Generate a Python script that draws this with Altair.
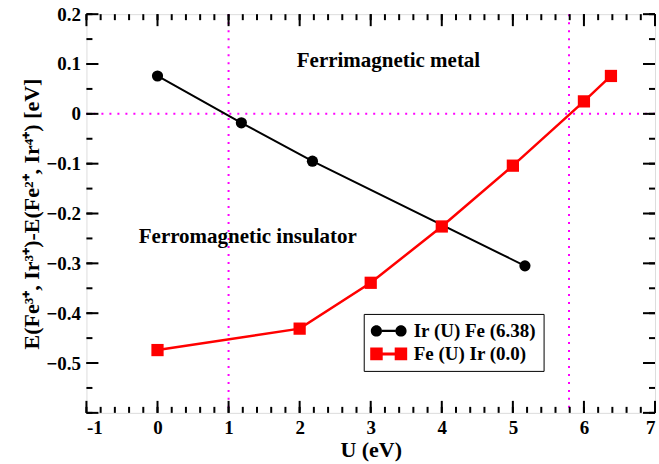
import altair as alt
import pandas as pd

# ---------------- data ----------------
u_ir_fe = [0.0, 1.18, 2.18, 5.17]
e_ir_fe = [0.076, -0.018, -0.095, -0.305]
u_fe_ir = [0.0, 2.0, 3.0, 4.0, 5.0, 6.0, 6.38]
e_fe_ir = [-0.474, -0.431, -0.339, -0.226, -0.104, 0.025, 0.076]
series_names = ["Ir (U) Fe (6.38)", "Fe (U) Ir (0.0)"]
series_colors = ["black", "red"]

vlines = [1.0, 5.79]
hlines = [0.0]

x_major = [-1, 0, 1, 2, 3, 4, 5, 6, 7]
y_major = [-0.6, -0.5, -0.4, -0.3, -0.2, -0.1, 0.0, 0.1, 0.2]
x_minor = [round(-1 + 0.2 * i, 2) for i in range(41)]
y_minor = [round(-0.6 + 0.05 * i, 2) for i in range(17)]

ann_text = ["Ferrimagnetic metal", "Ferromagnetic insulator"]
ann_x = [3.25, 1.27]
ann_y = [0.107, -0.247]

# ---------------- layout ----------------
W, H = 569, 399
FONT = "Liberation Serif"
MAJ, MIN = 12, 6

df_a = pd.DataFrame({"u": u_ir_fe, "e": e_ir_fe, "series": series_names[0]})
df_b = pd.DataFrame({"u": u_fe_ir, "e": e_fe_ir, "series": series_names[1]})
df_ann = pd.DataFrame({"t": ann_text, "u": ann_x, "e": ann_y})

xscale = alt.Scale(domain=[-1, 7], nice=False, zero=False)
yscale = alt.Scale(domain=[-0.6, 0.2], nice=False, zero=False)

xaxis = alt.Axis(values=x_major, tickSize=0, domain=False, grid=False,
                 labelExpr="'' + datum.value",
                 labelFont=FONT, labelFontWeight="bold", labelFontSize=19,
                 labelColor="black", labelPadding=6, title="U (eV)",
                 titleFont=FONT, titleFontWeight="bold", titleFontSize=22,
                 titleColor="black", titlePadding=2)
yaxis = alt.Axis(values=y_major, tickSize=0, domain=False, grid=False,
                 labelFont=FONT, labelFontWeight="bold", labelFontSize=19,
                 labelColor="black", labelPadding=6,
                 labelExpr="datum.value < -0.55 ? '' : format(datum.value, '.1~f')",
                 title="E(Fe³⁺, Ir³⁺)-E(Fe²⁺, Ir⁴⁺) [eV]",
                 titleFont=FONT, titleFontWeight="bold", titleFontSize=22,
                 titleColor="black", titlePadding=2)


def X(field="u"):
    return alt.X(f"{field}:Q", scale=xscale, axis=xaxis)


def Y(field="e"):
    return alt.Y(f"{field}:Q", scale=yscale, axis=yaxis)


# reference lines
vl = alt.Chart(pd.DataFrame({"u": vlines})).mark_rule(
    color="magenta", strokeWidth=2, strokeDash=[2, 6]).encode(x=X())
hl = alt.Chart(pd.DataFrame({"e": hlines})).mark_rule(
    color="magenta", strokeWidth=2, strokeDash=[2, 6]).encode(y=Y())

# tick marks (inward, on all four sides)
def xticks(vals, length):
    d = pd.DataFrame({"u": vals})
    bot = alt.Chart(d).mark_rule(color="black", strokeWidth=2).encode(
        x=X(), y=alt.value(H), y2=alt.value(H - length))
    top = alt.Chart(d).mark_rule(color="black", strokeWidth=2).encode(
        x=X(), y=alt.value(0), y2=alt.value(length))
    return [bot, top]


def yticks(vals, length):
    d = pd.DataFrame({"e": vals})
    left = alt.Chart(d).mark_rule(color="black", strokeWidth=2).encode(
        y=Y(), x=alt.value(0), x2=alt.value(length))
    right = alt.Chart(d).mark_rule(color="black", strokeWidth=2).encode(
        y=Y(), x=alt.value(W), x2=alt.value(W - length))
    return [left, right]


ticks = (xticks(x_minor, MIN) + xticks(x_major, MAJ)
         + yticks(y_minor, MIN) + yticks(y_major, MAJ))

line_a = alt.Chart(df_a).mark_line(color="black", strokeWidth=2).encode(x=X(), y=Y())
pts_a = alt.Chart(df_a).mark_point(shape="circle", filled=True, opacity=1,
                                   color="black", size=125).encode(x=X(), y=Y())
line_b = alt.Chart(df_b).mark_line(color="red", strokeWidth=2.5).encode(x=X(), y=Y())
pts_b = alt.Chart(df_b).mark_point(shape="square", filled=True, opacity=1,
                                   color="red", size=150).encode(x=X(), y=Y())

ann = alt.Chart(df_ann).mark_text(font=FONT, fontWeight="bold", fontSize=21,
                                  color="black", align="center",
                                  baseline="middle").encode(x=X(), y=Y(), text="t:N")

# legend-only layer (no rows drawn); symbol size 400 -> 10 px per path unit
circ = lambda cx, r: (f"M{cx - r},0 A{r},{r} 0 1 0 {cx + r},0 "
                      f"A{r},{r} 0 1 0 {cx - r},0 Z")
path_circles = (circ(-1.23, 0.56) + " " + circ(1.23, 0.56)
                + " M-0.67,-0.11 L0.67,-0.11 L0.67,0.11 L-0.67,0.11 Z")
path_squares = ("M-1.85,-0.63 L-0.6,-0.63 L-0.6,0.63 L-1.85,0.63 Z "
                "M0.6,-0.63 L1.85,-0.63 L1.85,0.63 L0.6,0.63 Z "
                "M-0.6,-0.15 L0.6,-0.15 L0.6,0.15 L-0.6,0.15 Z")

legend = alt.Legend(title=None, orient="none", legendX=277.5, legendY=300,
                    direction="vertical", strokeColor="black", padding=7,
                    labelFont=FONT, labelFontWeight="bold", labelFontSize=19,
                    labelColor="black", labelOffset=15, symbolSize=400,
                    symbolOffset=8, symbolStrokeWidth=0, rowPadding=3)

leg = alt.Chart(pd.DataFrame({"series": series_names})).transform_filter(
    "false").mark_point(filled=True, opacity=1, size=400).encode(
    x=X("x0"), y=Y("y0"),
    color=alt.Color("series:N", scale=alt.Scale(domain=series_names,
                                                range=series_colors),
                    legend=legend),
    shape=alt.Shape("series:N", scale=alt.Scale(domain=series_names,
                                                range=[path_circles, path_squares]),
                    legend=legend),
)

chart = alt.layer(vl, hl, *ticks, line_a, line_b, pts_a, pts_b, ann, leg).properties(
    width=W, height=H,
    autosize=alt.AutoSizeParams(type="none"),
    padding={"left": 86.5, "top": 14, "right": 4, "bottom": 51},
).configure_view(stroke="black", strokeWidth=2.5).configure_legend(
    strokeWidth=2).configure(background="white")

chart.save("out.html", embed_options={"renderer": "svg", "actions": False})
